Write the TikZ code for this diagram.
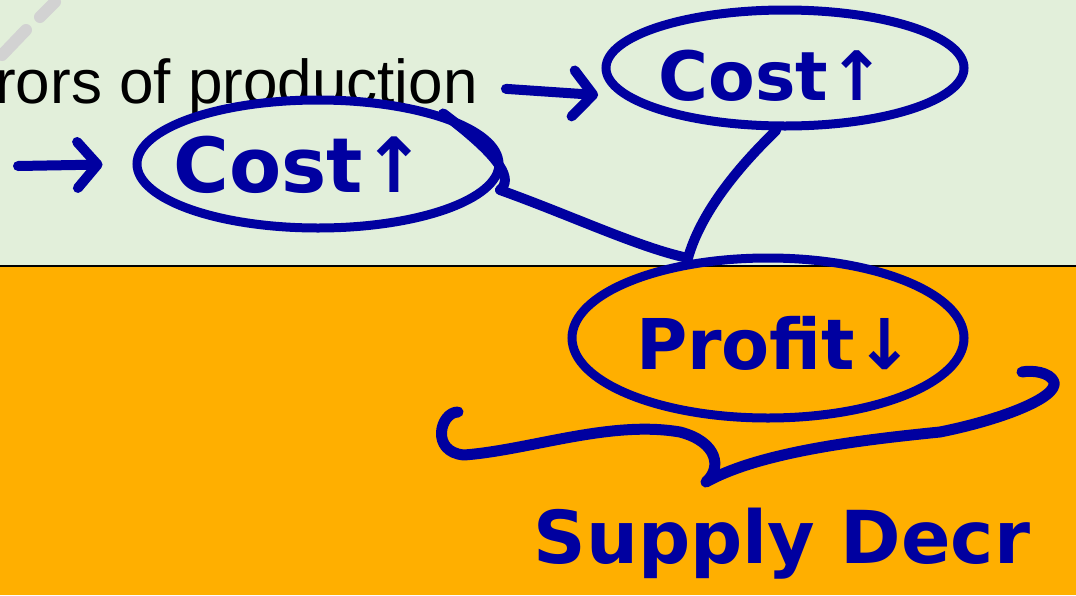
\documentclass[tikz,border=0pt]{standalone}
\usepackage{fontspec}
\setmainfont{Liberation Sans}
\newfontfamily\handfont{DejaVu Sans}
\usetikzlibrary{shapes.geometric,arrows.meta}
\definecolor{bggreen}{RGB}{226,239,218}
\definecolor{bgorange}{RGB}{255,175,0}
\definecolor{ink}{RGB}{0,0,160}
\tikzset{
  pen/.style={draw=ink,line width=10pt,line cap=round,line join=round},
  ring/.style={ellipse,draw=ink,line width=9pt,inner sep=0pt},
  handtext/.style={text=ink,font=\handfont\bfseries},
  penarrow/.style={pen,-{Straight Barb[length=20pt,width=46pt,line width=10pt,line cap=round,line join=round]}}
}
\begin{document}
\begin{tikzpicture}[x=1pt,y=-1pt]
\useasboundingbox (0,0) rectangle (1076,595);
\fill[bggreen] (0,0) rectangle (1076,266);
\fill[bgorange] (0,266) rectangle (1076,595);
\draw[black,line width=2.5pt] (0,266) -- (1076,266);
% faint watermark strokes
\draw[gray!35,line width=12pt,line cap=round] (55,2) -- (40,17);
\draw[gray!35,line width=12pt,line cap=round] (26,30) -- (2,55);
% printed text
\node[anchor=base east,inner sep=0pt,font=\fontsize{62}{70}\selectfont] (prod) at (478,103) {rors of production};
% ellipses with handwritten text
\node[ring,minimum width=358pt,minimum height=116pt] (c2) at (785,68) {};
\node[handtext,font=\handfont\bfseries\fontsize{68}{70}\selectfont] (t2) at (772,76) {Cost↑};
\node[ring,minimum width=362pt,minimum height=128pt] (c1) at (318,164) {};
\node[handtext,font=\handfont\bfseries\fontsize{76}{80}\selectfont] (t1) at (300,165) {Cost↑};
\node[ring,minimum width=392pt,minimum height=160pt] (p) at (768,338) {};
\node[handtext,font=\handfont\bfseries\fontsize{70}{72}\selectfont] (tp) at (775,343) {Profit↓};
% arrows
\coordinate (a0) at (18,166);
\draw[penarrow,shorten >=30pt] (a0) -- (c1.west);
\draw[penarrow,shorten <=28pt,shorten >=24pt] (prod.east) -- (c2.190);
% connectors to profit
\coordinate (m) at (688,258);
\draw[pen] (c1.22) .. controls (505,160) and (512,180) .. (500,190) .. controls (570,215) and (640,248) .. (m);
\draw[pen] (c2.262) .. controls (735,170) and (700,215) .. (m);
% brace
\draw[pen,line width=11pt] (458,412) .. controls (440,412) and (430,452) .. (464,455)
  .. controls (530,450) and (610,420) .. (680,432)
  .. controls (718,442) and (722,468) .. (706,482)
  .. controls (760,452) and (860,440) .. (940,432)
  .. controls (1000,420) and (1058,398) .. (1054,382)
  .. controls (1050,372) and (1032,370) .. (1022,372);
% supply text
\node[handtext,font=\handfont\bfseries\fontsize{73}{80}\selectfont,anchor=base west] (sd) at (530,563) {Supply Decr};
\end{tikzpicture}
\end{document}
